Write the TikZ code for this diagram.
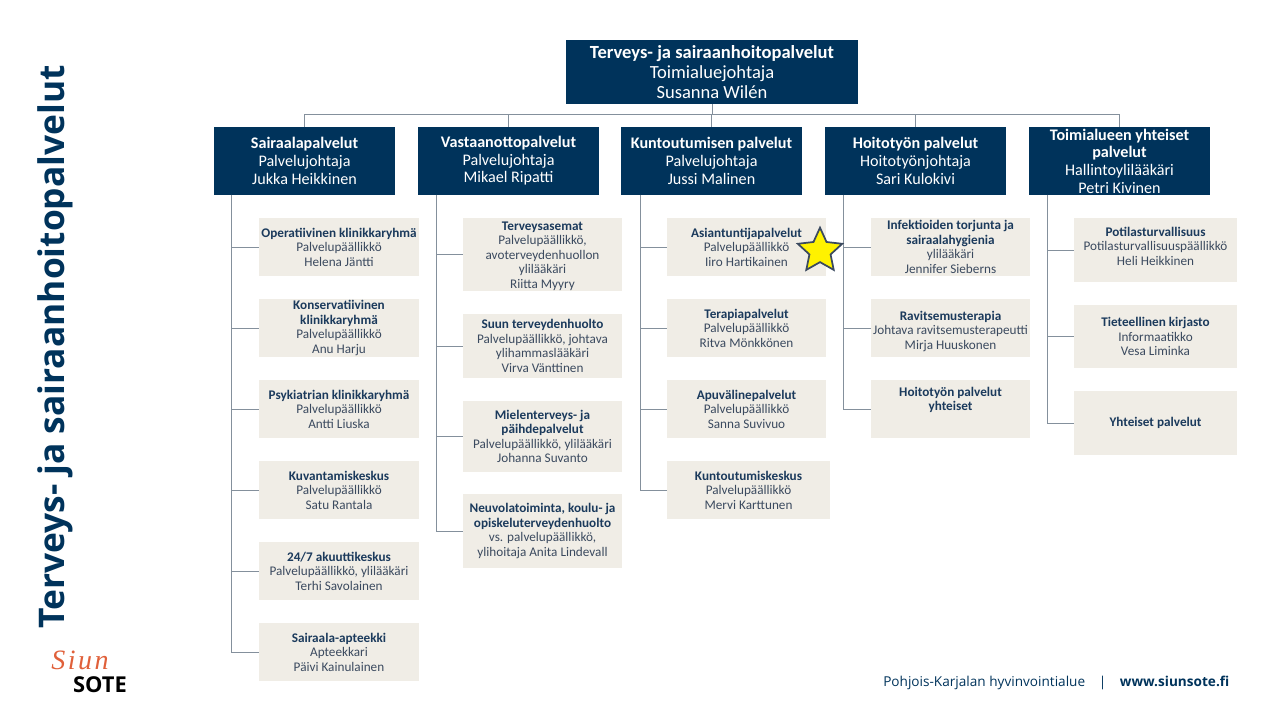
\documentclass[tikz,border=0pt]{standalone}
\usepackage{fontspec}
\setmainfont{Carlito}
\newfontfamily\openf{Open Sans}
\newfontfamily\logof[LetterSpace=9]{Liberation Serif}
\usetikzlibrary{shapes.geometric}
\definecolor{navy}{HTML}{00335B}
\definecolor{beige}{HTML}{F0EDE6}
\definecolor{linec}{HTML}{84909C}
\definecolor{bodyc}{HTML}{3B4A5F}
\definecolor{titlec}{HTML}{1B3A5C}
\definecolor{logoc}{HTML}{E0603A}
\tikzset{
 topbox/.style={fill=navy,text=white,align=center,inner sep=0pt,font=\fontsize{13.9}{15}\selectfont},
 headbox/.style={fill=navy,text=white,align=center,inner sep=0pt,font=\fontsize{12.1}{13.2}\selectfont},
 childbox/.style={fill=beige,text=bodyc,align=center,inner sep=0pt,font=\fontsize{9.9}{10.9}\selectfont},
 conn/.style={draw=linec,line width=0.75pt},
}
\newcommand{\bx}[7]{\node[#2,minimum width={(#5-#3)*0.75pt},minimum height={(#6-#4)*0.75pt}] (#1) at ({(#3+#5)/2},{(#4+#6)/2}) {#7};}
\newcommand{\ttl}[1]{\textcolor{titlec}{\textbf{#1}}}
\begin{document}
\begin{tikzpicture}[x=0.75pt,y=-0.75pt]
\useasboundingbox (0,0) rectangle (1280,720);
\bx{top}{topbox}{566}{40}{858}{104}{\textbf{Terveys- ja sairaanhoitopalvelut}\\Toimialuejohtaja\\Susanna Wilén}
\bx{h1}{headbox}{214}{127}{395}{195}{\textbf{Sairaalapalvelut}\\Palvelujohtaja\\Jukka Heikkinen}
\bx{h2}{headbox}{418}{127}{599}{195}{\textbf{Vastaanottopalvelut}\\Palvelujohtaja\\Mikael Ripatti}
\bx{h3}{headbox}{621}{127}{802}{195}{\textbf{Kuntoutumisen palvelut}\\Palvelujohtaja\\Jussi Malinen}
\bx{h4}{headbox}{825}{127}{1006}{195}{\textbf{Hoitotyön palvelut}\\Hoitotyönjohtaja\\Sari Kulokivi}
\bx{h5}{headbox}{1029}{127}{1210}{195}{\textbf{Toimialueen yhteiset}\\\textbf{palvelut}\\Hallintoylilääkäri\\Petri Kivinen}
% column 1
\bx{a1}{childbox}{259}{218}{419}{276}{\ttl{Operatiivinen klinikkaryhmä}\\Palvelupäällikkö\\Helena Jäntti}
\bx{a2}{childbox}{259}{299}{419}{357}{\ttl{Konservatiivinen}\\\ttl{klinikkaryhmä}\\Palvelupäällikkö\\Anu Harju}
\bx{a3}{childbox}{259}{380}{419}{438}{\ttl{Psykiatrian klinikkaryhmä}\\Palvelupäällikkö\\Antti Liuska}
\bx{a4}{childbox}{259}{461}{419}{519}{\ttl{Kuvantamiskeskus}\\Palvelupäällikkö\\Satu Rantala}
\bx{a5}{childbox}{259}{542}{419}{600}{\ttl{24/7 akuuttikeskus}\\Palvelupäällikkö, ylilääkäri\\Terhi Savolainen}
\bx{a6}{childbox}{259}{623}{419}{681}{\ttl{Sairaala-apteekki}\\Apteekkari\\Päivi Kainulainen}
% column 2
\bx{b1}{childbox}{463}{218}{622}{291}{\rule{0pt}{8.5pt}\ttl{Terveysasemat}\\Palvelupäällikkö,\\avoterveydenhuollon\\ylilääkäri\\Riitta Myyry}
\bx{b2}{childbox}{463}{314}{622}{378}{\ttl{Suun terveydenhuolto}\\Palvelupäällikkö, johtava\\ylihammaslääkäri\\Virva Vänttinen}
\bx{b3}{childbox}{463}{401}{622}{472}{\ttl{Mielenterveys- ja}\\\ttl{päihdepalvelut}\\Palvelupäällikkö, ylilääkäri\\Johanna Suvanto}
\bx{b4}{childbox}{463}{494}{622}{568}{\ttl{Neuvolatoiminta, koulu- ja}\\\ttl{opiskeluterveydenhuolto}\\vs. palvelupäällikkö,\\ylihoitaja Anita Lindevall}
% column 3
\bx{c1}{childbox}{667}{218}{826}{276}{\ttl{Asiantuntijapalvelut}\\Palvelupäällikkö\\Iiro Hartikainen}
\bx{c2}{childbox}{667}{299}{826}{357}{\ttl{Terapiapalvelut}\\Palvelupäällikkö\\Ritva Mönkkönen}
\bx{c3}{childbox}{667}{380}{826}{438}{\ttl{Apuvälinepalvelut}\\Palvelupäällikkö\\Sanna Suvivuo}
\bx{c4}{childbox}{667}{461}{830}{519}{\ttl{Kuntoutumiskeskus}\\Palvelupäällikkö\\Mervi Karttunen}
% column 4
\bx{d1}{childbox}{871}{218}{1030}{276}{\ttl{Infektioiden torjunta ja}\\\ttl{sairaalahygienia}\\ylilääkäri\\Jennifer Sieberns}
\bx{d2}{childbox}{871}{299}{1030}{357}{\rule{0pt}{11.5pt}\ttl{Ravitsemusterapia}\\Johtava ravitsemusterapeutti\\Mirja Huuskonen}
\bx{d3}{childbox}{871}{380}{1030}{438}{\ttl{Hoitotyön palvelut}\\\ttl{yhteiset}\\[4.5pt]\mbox{}}
% column 5
\bx{e1}{childbox}{1074}{218}{1237}{282}{\ttl{Potilasturvallisuus}\\Potilasturvallisuuspäällikkö\\Heli Heikkinen\rule[-6pt]{0pt}{1pt}}
\bx{e2}{childbox}{1074}{305}{1237}{368}{\ttl{Tieteellinen kirjasto}\\Informaatikko\\Vesa Liminka}
\bx{e3}{childbox}{1074}{391}{1237}{455}{\ttl{Yhteiset palvelut}}
% connectors
\coordinate (bus) at (712,115);
\draw[conn] (top.south) -- (bus);
\foreach \h in {h1,h2,h3,h4,h5}{\draw[conn] (bus) -| (\h.north);}
\coordinate (t1) at (231,195);\coordinate (t2) at (436,195);\coordinate (t3) at (640,195);\coordinate (t4) at (843,195);\coordinate (t5) at (1047,195);
\foreach \n in {a1,a2,a3,a4,a5,a6}{\draw[conn] (t1) |- (\n.west);}
\foreach \n in {b1,b2,b3,b4}{\draw[conn] (t2) |- (\n.west);}
\foreach \n in {c1,c2,c3,c4}{\draw[conn] (t3) |- (\n.west);}
\foreach \n in {d1,d2,d3}{\draw[conn] (t4) |- (\n.west);}
\foreach \n in {e1,e2,e3}{\draw[conn] (t5) |- (\n.west);}
% star
\node[star,star points=5,star point ratio=2.1,draw=bodyc,line width=1.3pt,fill=yellow,minimum size=35pt,inner sep=0pt] (st) at (820,251) {};
% side title
\node[rotate=90,text=navy,inner sep=0pt,font=\openf\bfseries\fontsize{26.5}{30}\selectfont] (title) at (55,347) {Terveys- ja sairaanhoitopalvelut};
% logo
\node[text=logoc,inner sep=0pt,font=\logof\itshape\fontsize{21}{23}\selectfont] (siun) at (80,660) {Siun};
\node[text=black,inner sep=0pt,font=\openf\bfseries\fontsize{16.4}{18}\selectfont] (sote) at (100,685) {SOTE};
% footer
\node[anchor=west,text=navy,inner sep=0pt,font=\openf\fontsize{10.2}{12}\selectfont] (foot) at (883,683) {Pohjois-Karjalan hyvinvointialue\hspace{1em}|\hspace{1em}\textbf{www.siunsote.fi}};
\end{tikzpicture}
\end{document}
